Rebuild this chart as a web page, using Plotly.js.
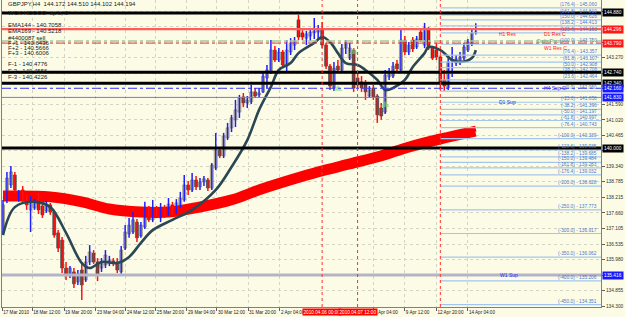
<!DOCTYPE html>
<html><head><meta charset="utf-8">
<script src="https://cdn.plot.ly/plotly-3.0.1.min.js"></script>
<style>html,body{margin:0;padding:0;background:#fcfce6;}#chart{width:625px;height:317px;}</style>
</head><body><div id="chart"></div>
<script>
// ---- data (GBPJPY H4) ----
const openP = [136.97,138.13,138.67,139.03,138.20,138.49,138.20,137.77,137.84,138.20,
137.91,137.73,137.95,137.69,136.94,136.68,135.67,135.42,135.53,135.17,
135.60,135.24,135.89,136.21,135.89,135.67,135.78,135.89,135.93,135.89,
135.53,136.39,136.90,136.97,137.33,136.83,137.15,137.77,137.41,137.77,
137.48,137.84,137.62,137.95,137.69,137.91,138.13,138.67,138.49,138.85,
138.60,138.78,138.85,138.56,139.28,139.93,139.72,140.37,140.73,141.02,
141.30,141.85,141.63,141.67,142.03,141.92,142.03,142.53,142.75,143.54,
143.18,143.47,142.96,143.47,143.72,144.63,144.16,143.97,144.05,144.16,
144.19,144.30,143.72,142.96,142.17,142.96,142.82,143.61,143.25,143.54,
142.53,142.39,142.32,141.88,142.17,141.88,141.45,141.30,142.57,142.60,
143.04,142.82,143.90,143.47,143.90,143.65,144.19,143.72,144.26,143.61,
143.54,143.29,142.46,142.17,143.15,143.07,143.11,143.25,143.54,143.76,
144.172];
const highP = [138.13,139.14,139.35,139.14,138.49,138.63,138.31,138.27,138.16,138.38,
138.02,138.09,138.02,137.77,137.04,136.79,135.89,135.74,135.67,135.60,
135.89,136.11,136.50,136.32,136.03,136.03,136.32,136.11,136.03,136.03,
136.47,137.22,137.48,137.69,137.44,137.33,138.06,137.91,138.13,137.91,
138.02,137.95,138.20,138.06,138.16,138.42,139.03,138.81,139.10,138.99,
138.92,138.99,138.92,139.46,140.55,140.00,140.55,140.91,141.20,141.74,
141.92,141.99,141.88,142.28,142.17,142.17,142.75,143.00,143.90,143.69,
143.61,143.54,143.90,143.97,144.01,144.81,144.26,144.23,144.34,144.70,
144.44,144.55,143.80,143.04,143.11,143.18,143.76,143.90,143.80,143.61,
142.75,142.60,142.46,142.24,142.28,141.95,141.63,142.82,142.89,143.11,
143.18,144.26,144.05,143.83,144.01,144.05,144.30,144.52,144.37,143.69,
143.80,143.36,142.82,143.25,143.65,143.36,143.47,143.80,143.94,144.30,
144.510];
const lowP = [136.86,138.02,138.56,138.38,138.06,138.02,137.77,136.97,137.77,137.62,
137.48,137.66,137.59,136.76,136.25,135.49,135.24,135.31,134.95,135.06,
134.52,135.17,135.78,135.82,135.20,135.53,135.67,135.74,135.74,135.49,
135.46,136.32,136.76,136.90,136.61,136.76,137.08,137.33,137.33,137.51,
137.33,137.48,137.55,137.59,137.62,137.84,138.06,138.31,138.42,138.49,
138.49,138.63,138.45,138.49,139.21,139.64,139.64,140.29,140.58,140.76,
141.09,141.48,141.45,141.59,141.81,141.81,141.99,142.17,142.68,143.11,
143.11,142.93,142.75,143.36,143.54,143.90,143.90,143.72,143.87,143.94,
143.90,143.61,142.86,142.10,142.06,142.75,142.75,143.40,143.18,142.03,
142.17,142.03,141.74,141.81,141.74,140.91,141.02,141.23,142.46,142.53,
142.75,142.75,143.36,143.36,143.47,143.58,143.83,143.61,143.54,143.18,
143.18,142.10,142.06,142.10,142.57,142.96,143.00,143.18,143.47,143.69,
144.102];
const closeP = [137.95,138.92,139.14,138.49,138.42,138.13,137.95,138.13,138.06,137.77,
137.59,137.98,137.69,136.86,136.39,135.67,135.42,135.67,135.10,135.46,
135.06,135.89,136.25,135.89,135.42,135.89,136.14,135.96,135.85,135.60,
136.32,136.97,137.22,137.41,136.76,137.22,137.77,137.41,137.84,137.59,
137.84,137.55,137.98,137.69,138.02,138.20,138.67,138.49,138.85,138.60,
138.78,138.89,138.56,139.39,139.93,139.72,140.44,140.73,141.09,141.38,
141.81,141.63,141.74,142.03,141.88,141.99,142.60,142.82,143.54,143.18,
143.47,143.00,143.54,143.79,143.87,144.01,144.01,144.12,144.19,144.23,
144.30,143.72,142.96,142.24,142.89,142.82,143.61,143.76,143.61,142.17,
142.28,142.17,142.03,142.10,141.85,141.20,141.16,142.64,142.75,142.96,
142.86,143.90,143.47,143.72,143.58,143.94,143.90,144.34,143.61,143.25,
143.29,142.39,142.24,143.11,143.18,143.22,143.29,143.65,143.83,144.16,
144.194];

const emaFastX = [0,3,8,12,16,20,22,25,29,32,35,38,43,48,54,58,62,65,68,70,73,75,79,81,83,85,87,90,92,95,97,99,102,104,107,108,111,114,116,119,120];
const emaFastY = [136.86,137.87,138.06,137.87,136.94,135.85,135.67,135.89,135.85,136.07,136.58,137.04,137.41,137.77,138.49,139.32,140.29,141.38,142.21,142.82,143.07,143.43,143.80,144.01,143.83,143.43,143.07,143.00,142.82,142.46,142.10,142.17,142.46,142.93,143.43,143.65,143.54,143.18,143.11,143.25,143.54];

const emaSlowX = [0,12,20,27,35,42,50,58,65,73,80,88,96,103,111,120];
const ema144Y = [138.36,138.33,138.15,137.89,137.78,137.78,137.97,138.22,138.58,138.94,139.23,139.52,139.81,140.13,140.42,140.7058];
const ema169Y = [138.18,138.15,137.97,137.71,137.60,137.60,137.78,138.04,138.40,138.76,139.05,139.34,139.63,139.95,140.24,140.5218];

const fibLevels = [176.4,161.8,150.0,138.2,123.6,100.0,76.4,61.8,50.0,38.2,23.6,0.0,-23.6,-38.2,-50.0,-61.8,-76.4,-100.0,-123.6,-138.2,-150.0,-161.8,-176.4,-200.0,-250.0,-300.0,-350.0,-400.0,-450.0];
const fibPrices = [145.060,144.810,144.626,144.413,144.163,143.750,143.357,143.107,142.908,142.706,142.464,142.060,141.656,141.396,141.197,140.997,140.743,140.339,139.935,139.685,139.484,139.283,139.032,138.628,137.773,136.917,136.062,135.206,134.351];
const fibStartIdx = 111;

const blackLevels = [144.880, 142.740, 142.340, 140.000];
const redLevel = 144.296;
const pivotLevel = 143.870;
const redDashLevel = 143.790;
const blueDashLevel = 142.160;
const blueLevel = 141.830;
const w1SupLevel = 135.416;

const vLineIdx = [81, 90, 111];
const vLineText = ['2010.04.06 00:00', '2010.04.07 12:00'];

const timeTickIdx = [-0.2,7.4,15.5,23.6,31.2,38.8,46.7,54.3,62.2,70.3,94,102,110,118];
const timeTickText = ['17 Mar 2010','18 Mar 12:00','19 Mar 20:00','23 Mar 04:00','24 Mar 12:00','25 Mar 20:00','29 Mar 04:00','30 Mar 12:00','31 Mar 20:00','2 Apr 04:00','8 Apr 04:00','9 Apr 12:00','12 Apr 20:00','14 Apr 04:00'];

const priceTicks = [134.300,134.855,135.416,135.980,136.535,137.105,137.660,138.215,138.785,139.340,139.905,140.465,141.020,141.590,142.150,142.710,143.270,143.825,144.385,144.940];

const fractIdx = [85, 89, 97];
const fractPrice = [142.13, 143.47, 141.56];

const infoLines = ['GBPJPY,H4  144.172 144.510 144.102 144.194','WCK HOOOD  ap b, 0','EMA144 - 140.7058','EMA169 - 140.5218','#4400087 sell','F+1 - 140.6436','F+2 - 140.5666','F+3 - 140.6006','F-1 - 140.4776','F-2 - 140.4556','F-3 - 140.4226'];

// ---- build ----
const FONT = 'Liberation Sans, Arial, sans-serif';
const Y0 = 134.264, Y1 = 145.347, X0 = -0.254, X1 = 151.78;
const PH = 307;
const idx = openP.map((_, i) => i);
const upI = idx.filter(i => closeP[i] >= openP[i]);
const dnI = idx.filter(i => closeP[i] < openP[i]);
function wick(ids){const x=[],y=[];ids.forEach(i=>{x.push(i,i,null);y.push(highP[i],lowP[i],null);});return {x,y};}
function body(ids){return {x:ids, base:ids.map(i=>Math.min(openP[i],closeP[i])), y:ids.map(i=>Math.max(Math.abs(closeP[i]-openP[i]),0.025))};}
const wu = wick(upI), wd = wick(dnI), bu = body(upI), bd = body(dnI);

const traces = [
 {x:emaSlowX,y:ema169Y,mode:'lines',line:{color:'#ff0000',width:6,shape:'spline'},hoverinfo:'skip'},
 {x:emaSlowX,y:ema144Y,mode:'lines',line:{color:'#ff0000',width:6,shape:'spline'},hoverinfo:'skip'},
 {x:wu.x,y:wu.y,mode:'lines',line:{color:'#1e1eff',width:1.5},hoverinfo:'skip',connectgaps:false},
 {x:wd.x,y:wd.y,mode:'lines',line:{color:'#ff1010',width:1.5},hoverinfo:'skip',connectgaps:false},
 {type:'bar',x:bu.x,y:bu.y,base:bu.base,width:0.75,marker:{color:'#dcd8a6',line:{color:'#6e6c58',width:0.6}},hoverinfo:'skip'},
 {type:'bar',x:bd.x,y:bd.y,base:bd.base,width:0.75,marker:{color:'#4a4a4a',line:{color:'#2a2a2a',width:0.5}},hoverinfo:'skip'},
 {x:emaFastX,y:emaFastY,mode:'lines',line:{color:'#2b4754',width:2.6,shape:'spline',smoothing:1},hoverinfo:'skip'},
 {x:fractIdx,y:fractPrice,mode:'markers',marker:{symbol:'triangle-up',size:8,color:'rgba(110,220,110,0.55)'},hoverinfo:'skip'}
];

const shapes = [];
function hline(p,color,width,dash){shapes.push({type:'line',xref:'paper',x0:0,x1:1,yref:'y',y0:p,y1:p,line:{color,width,dash:dash||'solid'}});}
fibPrices.forEach(p=>shapes.push({type:'line',xref:'x',x0:fibStartIdx,x1:X1,yref:'y',y0:p,y1:p,line:{color:'#a4c6ee',width:1.2}}));
hline(w1SupLevel,'#b4b4c6',3);
hline(redLevel,'#ff5c5c',2.2);
hline(pivotLevel,'#9ccc9c',1.5,'dashdot');
hline(redDashLevel,'#ff3030',1,'dashdot');
hline(blueDashLevel,'#3a3aff',1,'dashdot');
hline(blueLevel,'#6a78ff',1);
blackLevels.forEach(p=>hline(p,'#000000',3));
vLineIdx.forEach(v=>shapes.push({type:'line',xref:'x',x0:v,x1:v,yref:'paper',y0:0,y1:1,line:{color:'#ff3030',width:1,dash:'dot'}}));

// price boxes on the axis hide the tick labels lying under them
const boxLevels = blackLevels.concat([redLevel, redDashLevel, blueDashLevel, blueLevel, w1SupLevel]);
const tickText = priceTicks.map(v => boxLevels.some(b => Math.abs(b - v) < 0.14) ? '' : v.toFixed(3));

const ann = [];
const py = y => 1 - y/PH;
const infoY = [3.5,12.7,25,30.7,37.5,42.5,47.8,53.3,64.3,70.8,77.3];
infoLines.forEach((t,k)=>ann.push({xref:'paper',yref:'paper',x:0.006,y:py(infoY[k]),xanchor:'left',yanchor:'middle',text:t,showarrow:false,font:{family:FONT,size:6,color:'#202020'}}));
fibLevels.forEach((l,k)=>ann.push({xref:'paper',yref:'y',x:0.996,y:fibPrices[k],xanchor:'right',yanchor:'bottom',yshift:-1,text:'('+l.toFixed(1)+') - '+fibPrices[k].toFixed(3),showarrow:false,font:{family:FONT,size:4.8,color:'#4b78cc'}}));
function lab(t,xi,p,color,anchor){ann.push({xref:'x',yref:'y',x:xi,y:p,xanchor:'left',yanchor:anchor||'top',text:t,showarrow:false,font:{family:FONT,size:5,color}});}
lab('H1 Res',125.4,redLevel,'#ff2020');
lab('D1 Res C',136.8,redLevel,'#ff2020');
lab('W1 Res C',136.8,redDashLevel,'#ff2020');
lab('Daily Pivot',135.0,pivotLevel,'#70a070','middle');
lab('H4 Sup C',136.8,blueDashLevel,'#2a2aff','middle');
lab('D1 Sup',125.4,blueLevel,'#2a2aff');
lab('W1 Sup',125.6,w1SupLevel,'#2a2aff','middle');
function box(p,bg){ann.push({xref:'paper',yref:'y',x:1,y:p,xanchor:'left',yanchor:'middle',xshift:1,text:p.toFixed(3),showarrow:false,bgcolor:bg,borderpad:1,font:{family:FONT,size:4.8,color:'#ffffff'}});}
blackLevels.forEach(p=>box(p,'#000000'));
box(redLevel,'#ff1818'); box(redDashLevel,'#ff1818');
box(blueDashLevel,'#1818ff'); box(blueLevel,'#1818ff'); box(w1SupLevel,'#1818ff');
vLineText.forEach((t,k)=>ann.push({xref:'x',yref:'paper',x:vLineIdx[k],y:-5/PH,xanchor:'center',yanchor:'middle',text:t,showarrow:false,bgcolor:'#ff0000',borderpad:0.5,font:{family:FONT,size:4.7,color:'#ffffff'}}));

const layout = {
 width:625,height:317,margin:{l:2,r:24,t:0,b:10,pad:0},
 paper_bgcolor:'#fcfce6',plot_bgcolor:'#fcfce6',showlegend:false,barmode:'overlay',
 font:{family:FONT,size:5,color:'#303030'},
 xaxis:{range:[X0,X1],tickvals:timeTickIdx,ticktext:timeTickText,ticklabelposition:'outside right',tickangle:0,
  tickfont:{family:FONT,size:4.6,color:'#202020'},ticks:'outside',ticklen:3,tickcolor:'#606060',
  showline:true,linecolor:'#808080',linewidth:1,mirror:true,showgrid:true,gridcolor:'#d4d4c4',griddash:'dot',zeroline:false,fixedrange:true},
 yaxis:{range:[Y0,Y1],side:'right',tickvals:priceTicks,ticktext:tickText,
  tickfont:{family:FONT,size:4.8,color:'#303030'},ticks:'outside',ticklen:3,tickcolor:'#606060',
  showline:true,linecolor:'#808080',linewidth:1,mirror:true,showgrid:true,gridcolor:'#d4d4c4',griddash:'dot',zeroline:false,fixedrange:true},
 shapes, annotations:ann
};
Plotly.newPlot('chart',traces,layout,{staticPlot:true,displayModeBar:false});
</script></body></html>
